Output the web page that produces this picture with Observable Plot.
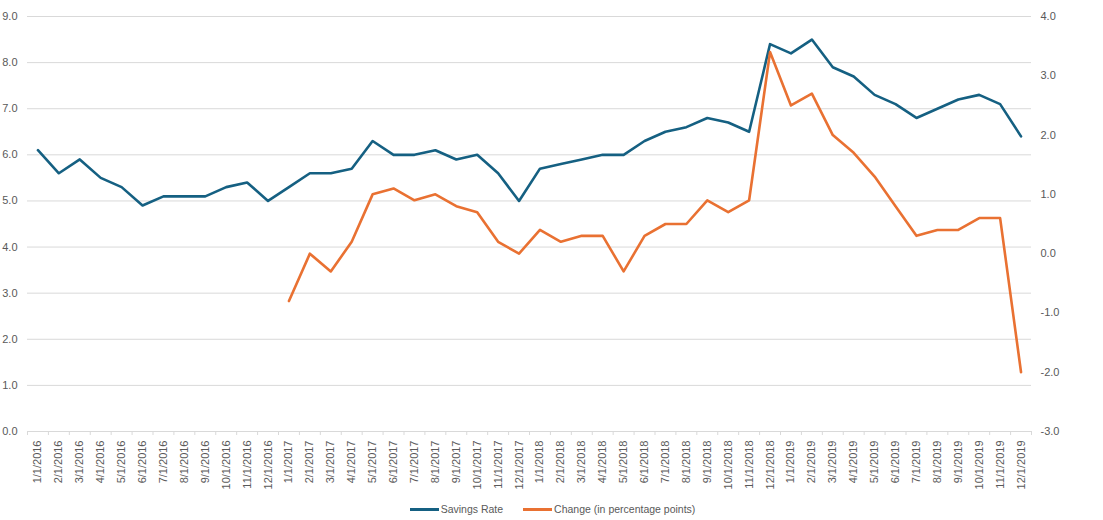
<!DOCTYPE html>
<html>
<head>
<meta charset="utf-8">
<script src="https://cdn.jsdelivr.net/npm/d3@7"></script>
<script src="https://cdn.jsdelivr.net/npm/@observablehq/plot@0.6"></script>
<style>
  html, body { margin: 0; padding: 0; background: #fff; }
  body { width: 1103px; height: 520px; overflow: hidden; font-family: "Liberation Sans", Arial, sans-serif; }
  #legend { display: flex; justify-content: center; align-items: center; gap: 20px; height: 22px; font-size: 10.5px; color: #595959; padding-left: 2px; }
  .item { display: flex; align-items: center; }
  .sw { width: 29px; height: 3px; margin-right: 2px; }
</style>
</head>
<body>
<div id="chart"></div>
<div id="legend"></div>
<script>
const months = [
  "1/1/2016","2/1/2016","3/1/2016","4/1/2016","5/1/2016","6/1/2016","7/1/2016","8/1/2016","9/1/2016","10/1/2016","11/1/2016","12/1/2016",
  "1/1/2017","2/1/2017","3/1/2017","4/1/2017","5/1/2017","6/1/2017","7/1/2017","8/1/2017","9/1/2017","10/1/2017","11/1/2017","12/1/2017",
  "1/1/2018","2/1/2018","3/1/2018","4/1/2018","5/1/2018","6/1/2018","7/1/2018","8/1/2018","9/1/2018","10/1/2018","11/1/2018","12/1/2018",
  "1/1/2019","2/1/2019","3/1/2019","4/1/2019","5/1/2019","6/1/2019","7/1/2019","8/1/2019","9/1/2019","10/1/2019","11/1/2019","12/1/2019"
];
const savingsRate = [
  6.1,5.6,5.9,5.5,5.3,4.9,5.1,5.1,5.1,5.3,5.4,5.0,
  5.3,5.6,5.6,5.7,6.3,6.0,6.0,6.1,5.9,6.0,5.6,5.0,
  5.7,5.8,5.9,6.0,6.0,6.3,6.5,6.6,6.8,6.7,6.5,8.4,
  8.2,8.5,7.9,7.7,7.3,7.1,6.8,7.0,7.2,7.3,7.1,6.4
];
const change = [
  null,null,null,null,null,null,null,null,null,null,null,null,
  -0.8,0.0,-0.3,0.2,1.0,1.1,0.9,1.0,0.8,0.7,0.2,0.0,
  0.4,0.2,0.3,0.3,-0.3,0.3,0.5,0.5,0.9,0.7,0.9,3.4,
  2.5,2.7,2.0,1.7,1.3,0.8,0.3,0.4,0.4,0.6,0.6,-2.0
];
const leftTicks = [0,1,2,3,4,5,6,7,8,9];
const rightTicks = [-3,-2,-1,0,1,2,3,4];
const seriesNames = ["Savings Rate", "Change (in percentage points)"];
const colors = ["#156082", "#E97132"];

// right axis [-3,4] mapped onto the left scale [0,9]
const toLeft = d3.scaleLinear([-3, 4], [0, 9]);

const idx = months.map((m, i) => i);
const rateData = idx.map(i => ({i, v: savingsRate[i]}));
const changeData = idx.filter(i => change[i] != null).map(i => ({i, v: change[i]}));
const boundaries = d3.range(months.length + 1).map(i => i - 0.5);

const textColor = "#595959";
const chart = Plot.plot({
  width: 1103,
  height: 498,
  marginLeft: 27,
  marginRight: 72,
  marginTop: 16,
  marginBottom: 67,
  style: {fontFamily: "'Liberation Sans', Arial, sans-serif", fontSize: "11px", color: textColor, background: "#fff"},
  x: {type: "linear", domain: [-0.5, months.length - 0.5]},
  y: {domain: [0, 9]},
  marks: [
    Plot.gridY(leftTicks, {stroke: "#d9d9d9", strokeOpacity: 1, strokeWidth: 1}),
    Plot.axisY(leftTicks, {anchor: "left", tickSize: 0, tickPadding: 10, tickFormat: d => d.toFixed(1), label: null, fill: textColor}),
    Plot.axisY(rightTicks.map(d => toLeft(d)), {anchor: "right", tickSize: 0, tickPadding: 9, tickFormat: d => toLeft.invert(d).toFixed(1), label: null, fill: textColor, textAnchor: "start"}),
    Plot.axisX(boundaries, {anchor: "bottom", tickSize: 4, stroke: "#d9d9d9", tickFormat: () => "", label: null}),
    Plot.axisX(idx, {anchor: "bottom", tickSize: 0, tickPadding: 9, tickRotate: -90, tickFormat: i => months[i], label: null, fill: textColor}),
    Plot.line(rateData, {x: "i", y: "v", stroke: colors[0], strokeWidth: 2.6, strokeLinejoin: "round", strokeLinecap: "round"}),
    Plot.line(changeData, {x: "i", y: d => toLeft(d.v), stroke: colors[1], strokeWidth: 2.6, strokeLinejoin: "round", strokeLinecap: "round"})
  ]
});
document.getElementById("chart").appendChild(chart);

const legend = document.getElementById("legend");
seriesNames.forEach((name, k) => {
  const item = document.createElement("div");
  item.className = "item";
  const sw = document.createElement("span");
  sw.className = "sw";
  sw.style.background = colors[k];
  const label = document.createElement("span");
  label.textContent = name;
  item.appendChild(sw);
  item.appendChild(label);
  legend.appendChild(item);
});
</script>
</body>
</html>
